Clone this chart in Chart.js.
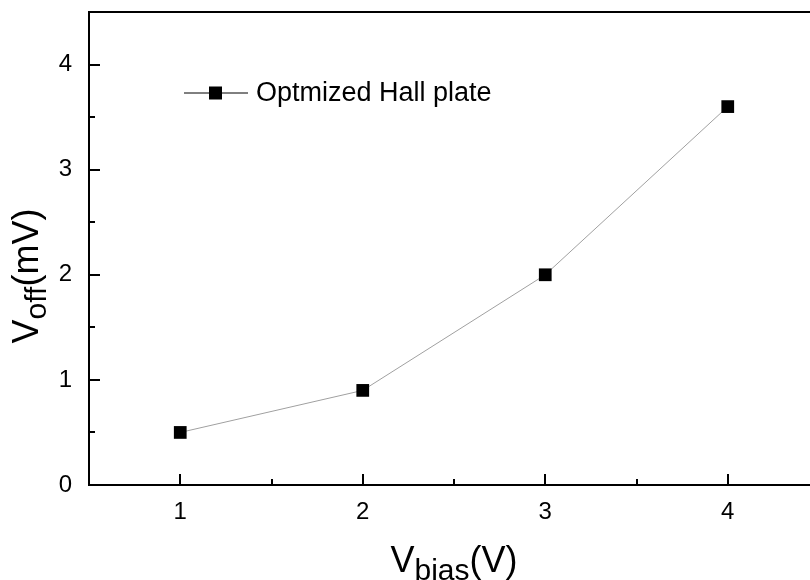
<!DOCTYPE html>
<html>
<head>
<meta charset="utf-8">
<script src="https://cdn.jsdelivr.net/npm/chart.js@4"></script>
<style>
  html, body { margin: 0; padding: 0; background: #fff; overflow: hidden; }
  #wrap { width: 830px; height: 580px; }
</style>
</head>
<body>
<div id="wrap"><canvas id="hallChart" width="830" height="580"></canvas></div>
<script>
/* ===================== DATA ===================== */
const V_BIAS = [1, 2, 3, 4];
const V_OFF = [0.5, 0.9, 2.0, 3.6];
const SERIES_LABEL = "Optmized Hall plate";
const X_TICKS = [1, 2, 3, 4];
const Y_TICKS = [0, 1, 2, 3, 4];

const FONT = "'Liberation Sans', Arial, sans-serif";

/* -------- inward ticks, top frame line -------- */
const axisDeco = {
  id: "axisDeco",
  afterDraw(chart) {
    const { ctx, chartArea: a, scales } = chart;
    ctx.save();
    ctx.strokeStyle = "#000";
    ctx.lineWidth = 2;
    ctx.beginPath();
    ctx.moveTo(a.left - 1, a.top);
    ctx.lineTo(a.right + 20, a.top);
    ctx.stroke();

    for (let v = 0.5; v <= 4.5; v += 0.5) {
      const x = Math.round(scales.x.getPixelForValue(v));
      const len = Number.isInteger(v) ? 11 : 6;
      ctx.beginPath();
      ctx.moveTo(x, a.bottom);
      ctx.lineTo(x, a.bottom - len);
      ctx.stroke();
    }
    for (let v = 0.5; v < 4.5; v += 0.5) {
      const y = Math.round(scales.y.getPixelForValue(v));
      const len = Number.isInteger(v) ? 11 : 6;
      ctx.beginPath();
      ctx.moveTo(a.left, y);
      ctx.lineTo(a.left + len, y);
      ctx.stroke();
    }
    ctx.restore();
  }
};

/* -------- axis titles with subscripts -------- */
function subText(ctx, parts, x, y) {
  // parts: [text, size, dy]
  let w = 0;
  parts.forEach(p => { ctx.font = p[1] + "px " + FONT; w += ctx.measureText(p[0]).width; });
  let cx = x - w / 2;
  parts.forEach(p => {
    ctx.font = p[1] + "px " + FONT;
    ctx.fillText(p[0], cx, y + p[2]);
    cx += ctx.measureText(p[0]).width;
  });
}

const axisTitles = {
  id: "axisTitles",
  afterDraw(chart) {
    const { ctx } = chart;
    ctx.save();
    ctx.fillStyle = "#000";
    ctx.textBaseline = "alphabetic";
    ctx.textAlign = "left";
    subText(ctx, [["V", 36, 0], ["bias", 30, 8], ["(V)", 36, 0]], 454, 572);

    ctx.translate(38, 276);
    ctx.rotate(-Math.PI / 2);
    subText(ctx, [["V", 36, 0], ["off", 30, 8], ["(mV)", 36, 0]], 0, 0);
    ctx.restore();
  }
};

/* -------- legend inside plot -------- */
const innerLegend = {
  id: "innerLegend",
  afterDraw(chart) {
    const { ctx } = chart;
    const ds = chart.data.datasets[0];
    const y = 93;
    ctx.save();
    ctx.strokeStyle = "#000";
    ctx.lineWidth = 1;
    ctx.beginPath();
    ctx.moveTo(184, y);
    ctx.lineTo(248, y);
    ctx.stroke();
    ctx.fillStyle = ds.pointBackgroundColor;
    ctx.fillRect(209, y - 6.5, 13, 13);
    ctx.font = "27px " + FONT;
    ctx.textBaseline = "middle";
    ctx.fillText(ds.label, 256, y + 1);
    ctx.restore();
  }
};

/* ===================== CHART ===================== */
new Chart(document.getElementById("hallChart"), {
  type: "line",
  data: {
    labels: V_BIAS,
    datasets: [{
      label: SERIES_LABEL,
      data: V_BIAS.map((x, i) => ({ x, y: V_OFF[i] })),
      borderColor: "#a0a0a0",
      borderWidth: 1,
      pointStyle: "rect",
      pointRadius: 9,
      pointBackgroundColor: "#000",
      pointBorderColor: "#000",
      pointBorderWidth: 0,
      tension: 0
    }]
  },
  options: {
    responsive: false,
    animation: false,
    layout: { padding: { top: 12, right: 11, left: 0, bottom: 0 } },
    plugins: { legend: { display: false }, tooltip: { enabled: false } },
    scales: {
      x: {
        type: "linear",
        min: 0.5,
        max: 4.5,
        afterBuildTicks: s => { s.ticks = X_TICKS.map(v => ({ value: v })); },
        afterFit: s => { s.height = 95; s.paddingLeft = 0; s.paddingRight = 0; },
        grid: { display: false },
        border: { display: true, color: "#000", width: 2 },
        ticks: { color: "#000", font: { family: FONT, size: 24 }, padding: 5 }
      },
      y: {
        type: "linear",
        min: 0,
        max: 4.5,
        afterBuildTicks: s => { s.ticks = Y_TICKS.map(v => ({ value: v })); },
        afterFit: s => { s.width = 89; s.paddingTop = 0; s.paddingBottom = 0; },
        grid: { display: false },
        border: { display: true, color: "#000", width: 2 },
        ticks: { color: "#000", font: { family: FONT, size: 24 }, padding: 9 }
      }
    }
  },
  plugins: [axisDeco, axisTitles, innerLegend]
});
</script>
</body>
</html>
